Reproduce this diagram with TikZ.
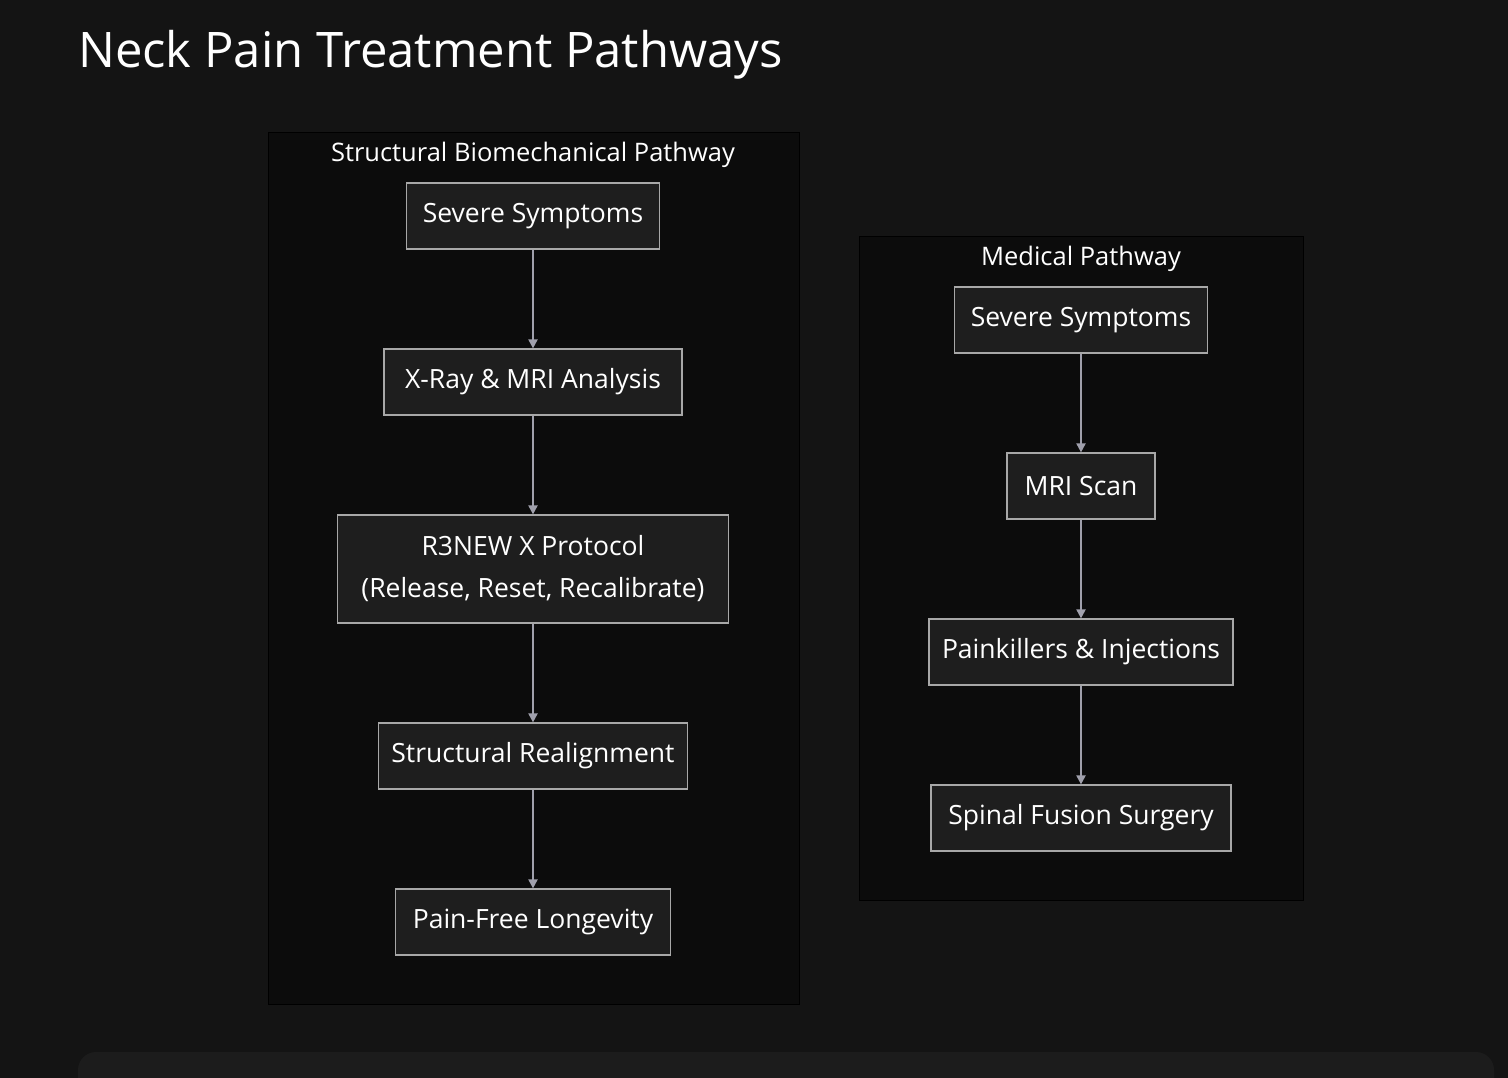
\documentclass[tikz,border=0pt]{standalone}
\usepackage{fontspec}
\setmainfont{Open Sans}
\usetikzlibrary{arrows.meta}
\definecolor{bg}{HTML}{141414}
\definecolor{cl}{HTML}{0C0C0C}
\definecolor{nf}{HTML}{1E1E1E}
\definecolor{nb}{HTML}{A8A8A8}
\definecolor{ar}{HTML}{A0A0AC}
\definecolor{bar}{HTML}{1C1C1C}
\tikzset{
 box/.style={draw=nb, line width=1.2pt, fill=nf, text=white, font=\fontsize{26.5}{42}\selectfont, minimum height=66pt, inner sep=0pt, align=center},
 clus/.style={draw=black, line width=1pt, fill=cl},
 conn/.style={draw=ar, line width=2pt, -{Triangle[length=9pt,width=9pt]}},
 ctitle/.style={text=white, font=\fontsize{25.5}{30}\selectfont}
}
\begin{document}
\begin{tikzpicture}[x=1pt,y=-1pt]
\fill[bg] (0,0) rectangle (1508,1078);
\useasboundingbox (0,0) rectangle (1508,1078);
\fill[bar,rounded corners=18pt] (78,1052) rectangle (1494,1110);
\node[anchor=west,text=white,font=\fontsize{49}{56}\selectfont,inner sep=0pt] (title) at (78,55) {Neck Pain Treatment Pathways};
\draw[clus] (268,133) rectangle (799,1004);
\draw[clus] (859,237) rectangle (1303,900);
\node[ctitle] (t1) at (533,155) {Structural Biomechanical Pathway};
\node[ctitle] (t2) at (1081,259) {Medical Pathway};
\node[box,minimum width=253pt] (a1) at (533,216) {Severe Symptoms};
\node[box,minimum width=298pt] (a2) at (533,382) {X-Ray \& MRI Analysis};
\node[box,minimum width=391pt,minimum height=108pt] (a3) at (533,569) {R3NEW X Protocol\\(Release, Reset, Recalibrate)};
\node[box,minimum width=309pt] (a4) at (533,756) {Structural Realignment};
\node[box,minimum width=275pt] (a5) at (533,922) {Pain-Free Longevity};
\node[box,minimum width=253pt] (b1) at (1081,320) {Severe Symptoms};
\node[box,minimum width=148pt] (b2) at (1081,486) {MRI Scan};
\node[box,minimum width=304pt] (b3) at (1081,652) {Painkillers \& Injections};
\node[box,minimum width=300pt] (b4) at (1081,818) {Spinal Fusion Surgery};
\draw[conn] (a1) -- (a2);
\draw[conn] (a2) -- (a3);
\draw[conn] (a3) -- (a4);
\draw[conn] (a4) -- (a5);
\draw[conn] (b1) -- (b2);
\draw[conn] (b2) -- (b3);
\draw[conn] (b3) -- (b4);
\end{tikzpicture}
\end{document}
